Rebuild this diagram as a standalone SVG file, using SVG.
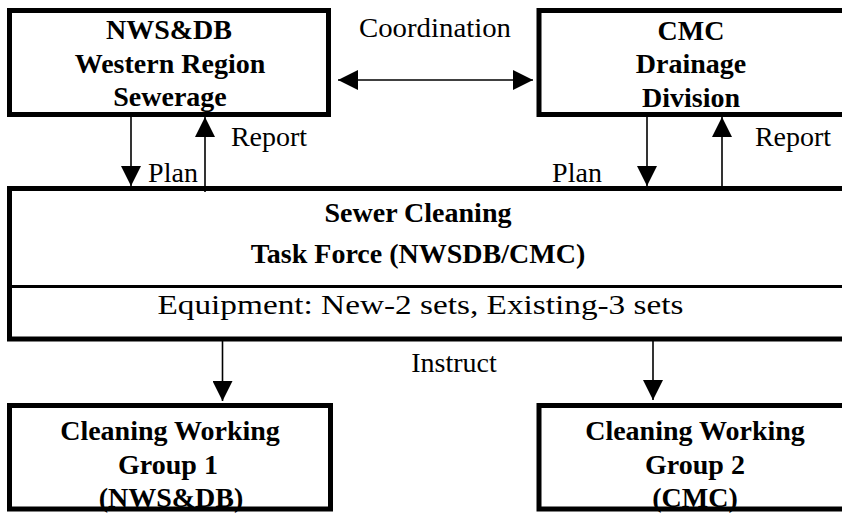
<svg xmlns="http://www.w3.org/2000/svg" width="842" height="513" viewBox="0 0 842 513">
<style>
.box{fill:#fff;stroke:#000;stroke-width:5}
.div{stroke:#000;stroke-width:3}
.b{font-family:"Liberation Serif","Times New Roman",serif;font-weight:bold;font-size:28px;fill:#000;text-anchor:middle}
.r{font-family:"Liberation Serif","Times New Roman",serif;font-size:28px;fill:#000;text-anchor:middle}
.c{stroke:#000;stroke-width:1.6;fill:none}
</style>
<defs>
<marker id="ah" markerUnits="userSpaceOnUse" markerWidth="20" markerHeight="20" refX="20" refY="10" orient="auto-start-reverse" viewBox="0 0 20 20">
<path d="M0,0 L20,10 L0,20 Z" fill="#000"/>
</marker>
</defs>
<rect width="842" height="513" fill="#fff"/>
<g id="nwsdb">
<rect class="box" x="9.5" y="10.5" width="319" height="104"/>
<text class="b" x="169" y="39">NWS&amp;DB</text>
<text class="b" x="170" y="73">Western Region</text>
<text class="b" x="170" y="106">Sewerage</text>
</g>
<g id="cmc">
<rect class="box" x="539" y="10.5" width="310" height="104"/>
<text class="b" x="691" y="40">CMC</text>
<text class="b" x="691" y="73">Drainage</text>
<text class="b" x="691" y="107">Division</text>
</g>
<g id="taskforce">
<rect class="box" x="9.5" y="188.5" width="840" height="150.5"/>
<line class="div" x1="9.5" y1="286.5" x2="842" y2="286.5"/>
<text class="b" x="418" y="222">Sewer Cleaning</text>
<text class="b" x="418" y="263">Task Force (NWSDB/CMC)</text>
<text class="r" x="420.5" y="314" textLength="526" lengthAdjust="spacingAndGlyphs">Equipment: New-2 sets, Existing-3 sets</text>
</g>
<g id="group1">
<rect class="box" x="9.5" y="405.5" width="321" height="103.5"/>
<text class="b" x="170" y="440">Cleaning Working</text>
<text class="b" x="168" y="474">Group 1</text>
<text class="b" x="171" y="507">(NWS&amp;DB)</text>
</g>
<g id="group2">
<rect class="box" x="539" y="405.5" width="310" height="103.5"/>
<text class="b" x="695" y="440">Cleaning Working</text>
<text class="b" x="695" y="474">Group 2</text>
<text class="b" x="695" y="507">(CMC)</text>
</g>
<g id="connectors">
<line class="c" x1="338" y1="80" x2="533" y2="80" marker-start="url(#ah)" marker-end="url(#ah)"/>
<line class="c" x1="131" y1="117" x2="131" y2="186" marker-end="url(#ah)"/>
<line class="c" x1="205" y1="192" x2="205" y2="117" marker-end="url(#ah)"/>
<line class="c" x1="647" y1="117" x2="647" y2="186" marker-end="url(#ah)"/>
<line class="c" x1="722" y1="186" x2="722" y2="117" marker-end="url(#ah)"/>
<line class="c" x1="222.5" y1="341" x2="222.5" y2="401" marker-end="url(#ah)"/>
<line class="c" x1="653" y1="341" x2="653" y2="400" marker-end="url(#ah)"/>
</g>
<g id="labels">
<text class="r" x="435" y="37" textLength="152" lengthAdjust="spacingAndGlyphs">Coordination</text>
<text class="r" x="269" y="146">Report</text>
<text class="r" x="173" y="182">Plan</text>
<text class="r" x="577" y="182">Plan</text>
<text class="r" x="793" y="146">Report</text>
<text class="r" x="454" y="372">Instruct</text>
</g>
</svg>
